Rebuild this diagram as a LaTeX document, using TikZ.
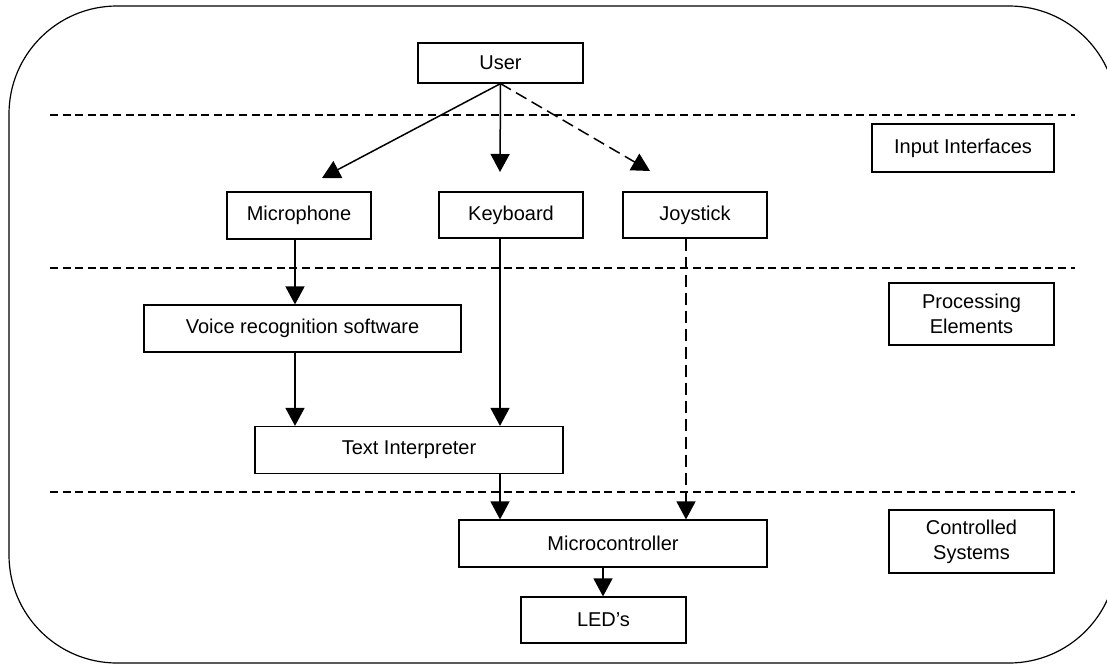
\documentclass[tikz,border=0pt]{standalone}
\usepackage{fontspec}
\setmainfont{Liberation Sans}
\usetikzlibrary{positioning,arrows.meta}

\tikzset{
  box/.style={draw, line width=.6pt, inner sep=0pt, align=center,
    font=\fontsize{10}{12.5}\selectfont},
  flow/.style={line width=.75pt, -{Triangle[length=9pt,width=9.5pt]}},
  dflow/.style={flow, dash pattern=on 6pt off 3pt},
  layer/.style={line width=.6pt, dash pattern=on 4pt off 2.3pt}
}

\begin{document}
\begin{tikzpicture}[x=.5pt, y=-.5pt]
  \useasboundingbox (0,0) rectangle (1107,664);
  \draw[line width=.6pt, rounded corners=54pt] (9,6) rectangle (1117,663);

  % layer borders
  \draw[layer] (50,115) -- (1075,115);
  \draw[layer] (50,268) -- (1075,268);
  \draw[layer] (50,492) -- (1075,492);

  % layer names
  \node[box, minimum width=91pt, minimum height=24pt] (inp) at (963,148) {Input Interfaces};
  \node[box, minimum width=82.5pt, minimum height=31pt] (proc) at (971.5,314) {Processing\\Elements};
  \node[box, minimum width=82.5pt, minimum height=31.5pt] (ctrl) at (971.5,541.5) {Controlled\\Systems};

  % blocks
  \node[box, minimum width=82.5pt, minimum height=20pt] (user) at (500.5,63) {User};
  \node[box, minimum width=72pt, minimum height=23.5pt] (mic) at (299,215.5) {Microphone};
  \node[box, minimum width=72pt, minimum height=23pt] (kbd) at (511,215) {Keyboard};
  \node[box, minimum width=72pt, minimum height=23pt] (joy) at (695,215) {Joystick};
  \node[box, minimum width=158.5pt, minimum height=23.5pt] (voice) at (302.5,328.5) {Voice recognition software};
  \node[box, minimum width=154pt, minimum height=23.5pt] (text) at (409,450) {Text Interpreter};
  \node[box, minimum width=154pt, minimum height=23.5pt] (mc) at (613,543.5) {Microcontroller};
  \node[box, minimum width=82.5pt, minimum height=23pt] (led) at (603.5,620) {LED’s};

  \coordinate (micin) at (322,178);
  \coordinate (kbdin) at (500,172);
  \coordinate (joyin) at (650,171);

  % connections
  \draw[flow] (user.south) -- (micin);
  \draw[flow] (user.south) -- (kbdin);
  \draw[dflow] (user.south) -- (joyin);
  \draw[flow] (mic.south -| 295,0) -- (voice.north -| 295,0);
  \draw[flow] (voice.south -| 295,0) -- (text.north -| 295,0);
  \draw[flow] (kbd.south -| 500,0) -- (text.north -| 500,0);
  \draw[flow] (text.south -| 500,0) -- (mc.north -| 500,0);
  \draw[dflow] (joy.south -| 686,0) -- (mc.north -| 686,0);
  \draw[flow] (mc.south -| 603,0) -- (led.north -| 603,0);
\end{tikzpicture}
\end{document}
